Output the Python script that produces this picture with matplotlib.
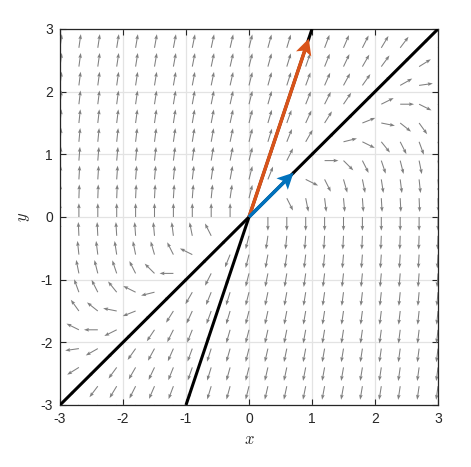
import numpy as np
import matplotlib
matplotlib.use("Agg")
import matplotlib.pyplot as plt

plt.rcParams['font.family'] = ['Liberation Sans', 'DejaVu Sans']
plt.rcParams['mathtext.fontset'] = 'cm'

# System x' = y, y' = -3x + 4y  (matrix A)
A = np.array([[0.0, 1.0], [-3.0, 4.0]])
grid_vals = np.round(np.arange(-3, 3.0001, 0.3), 2)
arrow_len = 0.22
# eigen-directions
eig_blue = [0.7071, 0.7071]      # lambda=1 * unit (1,1)
eig_orange = [0.9487, 2.8460]    # lambda=3 * unit (1,3)
line1_x = [-3, 3]; line1_y = [-3, 3]
line2_x = [-1, 1]; line2_y = [-3, 3]
ticks = [-3, -2, -1, 0, 1, 2, 3]

X, Y = np.meshgrid(grid_vals, grid_vals)
U = A[0, 0] * X + A[0, 1] * Y
V = A[1, 0] * X + A[1, 1] * Y
N = np.hypot(U, V)
N[N == 0] = 1
U = U / N * arrow_len
V = V / N * arrow_len

fig = plt.figure(figsize=(4.71, 4.67), dpi=100)
ax = fig.add_axes([60/471, 1-405/467, 378/471, 376/467])

ax.set_axisbelow(True)
ax.grid(True, color='#e3e3e3', linewidth=0.9)

ax.quiver(X, Y, U, V, angles='xy', scale_units='xy', scale=1,
          color='#808080', units='dots', width=1.05, headwidth=3.5, headlength=4.8,
          headaxislength=4.2, zorder=2)

ax.plot(line1_x, line1_y, color='black', lw=2.2, zorder=3, solid_capstyle='butt')
ax.plot(line2_x, line2_y, color='black', lw=2.2, zorder=3, solid_capstyle='butt')

ax.quiver([0], [0], [eig_orange[0]], [eig_orange[1]], angles='xy', scale_units='xy',
          scale=1, color='#D95319', units='dots', width=3.5, headwidth=4.6,
          headlength=4.6, headaxislength=3.8, zorder=4)
ax.quiver([0], [0], [eig_blue[0]], [eig_blue[1]], angles='xy', scale_units='xy',
          scale=1, color='#0072BD', units='dots', width=3.5, headwidth=4.6,
          headlength=4.6, headaxislength=3.8, zorder=4)

ax.set_xlim(-3, 3)
ax.set_ylim(-3, 3)
ax.set_xticks(ticks)
ax.set_yticks(ticks)
ax.set_xticklabels([str(t) for t in ticks])
ax.set_yticklabels([str(t) for t in ticks])
ax.tick_params(direction='in', length=4, width=0.8, top=True, right=True,
               labelsize=10, colors='#262626', pad=5)
for s in ax.spines.values():
    s.set_color('#262626')
    s.set_linewidth(0.9)

ax.set_xlabel('$x$', fontsize=12, color='#262626', labelpad=4)
ax.set_ylabel('$y$', fontsize=12, color='#262626', labelpad=6)

fig.savefig('out.png', dpi=100)
